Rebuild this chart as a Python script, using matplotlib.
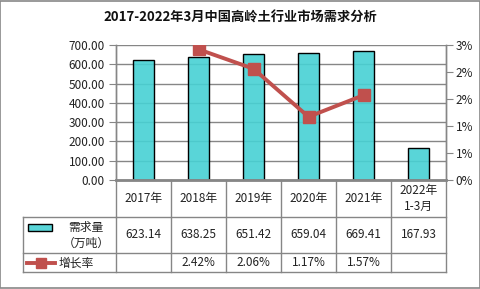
import matplotlib
matplotlib.use("Agg")
import matplotlib.pyplot as plt
from matplotlib.transforms import blended_transform_factory
from matplotlib.patches import Rectangle
from matplotlib.lines import Line2D

plt.rcParams['font.family'] = ['Noto Sans CJK SC', 'DejaVu Sans']

title = "2017-2022年3月中国高岭土行业市场需求分析"
categories = ["2017年", "2018年", "2019年", "2020年", "2021年", "2022年\n1-3月"]
demand = [623.14, 638.25, 651.42, 659.04, 669.41, 167.93]
growth = [None, 0.0242, 0.0206, 0.0117, 0.0157, None]
left_ticks = [0, 100, 200, 300, 400, 500, 600, 700]
right_ticks = [0, 0.005, 0.010, 0.015, 0.020, 0.025]
right_labels = ["0%", "1%", "1%", "2%", "2%", "3%"]
series_names = ["需求量\n（万吨）", "增长率"]

W, H = 481, 289
fig = plt.figure(figsize=(W / 100, H / 100), dpi=100)

def fy(py):
    return (H - py) / H

def fx(px):
    return px / W

L, R, T, B = 116, 446, 45, 180
ax = fig.add_axes([fx(L), fy(B), (R - L) / W, (B - T) / H])
ax2 = ax.twinx()

bar_c = (0.28, 0.82, 0.83, 0.9)
line_c = '#C0504D'
grid_c = '#868686'

x = list(range(len(categories)))
ax.set_xlim(-0.5, len(categories) - 0.5)
ax.set_ylim(0, 700)
ax.set_yticks(left_ticks)
ax.set_yticklabels([f"{v:.2f}" for v in left_ticks])
for v in left_ticks[1:]:
    ax.axhline(v, color=grid_c, lw=1, zorder=0)
ax.bar(x, demand, width=0.38, color=bar_c, edgecolor='black', linewidth=1, zorder=2)

ax2.set_ylim(0, 0.025)
ax2.set_yticks(right_ticks)
ax2.set_yticklabels(right_labels)
gx = [i for i, g in zip(x, growth) if g is not None]
gy = [g for g in growth if g is not None]
ax2.plot(gx, gy, color=line_c, lw=2.8, marker='s', markersize=8,
         markerfacecolor=line_c, markeredgecolor=line_c, zorder=5)

for a in (ax, ax2):
    a.set_xticks([])
    for s in a.spines.values():
        s.set_color(grid_c)
        s.set_linewidth(1)
    a.spines['top'].set_visible(False)
ax.spines['bottom'].set_linewidth(2)
ax.spines['bottom'].set_zorder(6)
ax.tick_params(axis='y', length=5, color=grid_c, labelsize=8.5, pad=3, labelcolor='#222222')
ax2.tick_params(axis='y', length=5, color=grid_c, labelsize=8.5, pad=2, labelcolor='#222222')

# table
tr = blended_transform_factory(ax.transData, fig.transFigure)
rows_y = [180, 217, 253, 272]
xl = -0.5 - 93 / 55.0
xr = len(categories) - 0.5

def hline(x0, x1, py, lw=1):
    fig.add_artist(Line2D([x0, x1], [fy(py), fy(py)], transform=tr, color=grid_c, lw=lw))

def vline(xd, py0, py1, lw=1):
    fig.add_artist(Line2D([xd, xd], [fy(py0), fy(py1)], transform=tr, color=grid_c, lw=lw))

hline(-0.5, xr, rows_y[1])
hline(xl, -0.5, rows_y[1])
hline(xl, xr, rows_y[2])
hline(xl, xr, rows_y[3])
for i in range(len(categories) + 1):
    vline(i - 0.5, rows_y[0], rows_y[3])
vline(xl, rows_y[1], rows_y[3])

fs = 8.5
for i, c in enumerate(categories):
    fig.text(i, fy((rows_y[0] + rows_y[1]) / 2), c, transform=tr, ha='center', va='center',
             fontsize=fs, color='#222222', linespacing=1.3)
    fig.text(i, fy((rows_y[1] + rows_y[2]) / 2), f"{demand[i]:.2f}", transform=tr,
             ha='center', va='center', fontsize=fs, color='#222222')
    if growth[i] is not None:
        fig.text(i, fy((rows_y[2] + rows_y[3]) / 2), f"{growth[i] * 100:.2f}%", transform=tr,
                 ha='center', va='center', fontsize=fs, color='#222222')

# legend cells
fig.add_artist(Rectangle((fx(28), fy(231)), 24 / W, 7 / H, transform=fig.transFigure,
                         facecolor=bar_c, edgecolor='black', lw=1))
fig.text(fx(86), fy(235), series_names[0], ha='center', va='center', fontsize=fs,
         color='#222222', linespacing=1.3)
fig.add_artist(Line2D([fx(27), fx(55)], [fy(263), fy(263)], transform=fig.transFigure,
                      color=line_c, lw=2.8))
fig.add_artist(Line2D([fx(41)], [fy(263)], transform=fig.transFigure, color=line_c,
                      marker='s', markersize=7, lw=0, markerfacecolor=line_c,
                      markeredgecolor=line_c))
fig.text(fx(59), fy(263), series_names[1], ha='left', va='center', fontsize=fs, color='#222222')

fig.text(0.5, fy(18), title, ha='center', va='center', fontsize=9.5, fontweight='bold',
         color='#111111')

fig.add_artist(Rectangle((0.001, 0.002), 0.997, 0.995, transform=fig.transFigure,
                         facecolor='none', edgecolor='#888888', lw=1.2))

fig.savefig("out.png", dpi=100)
